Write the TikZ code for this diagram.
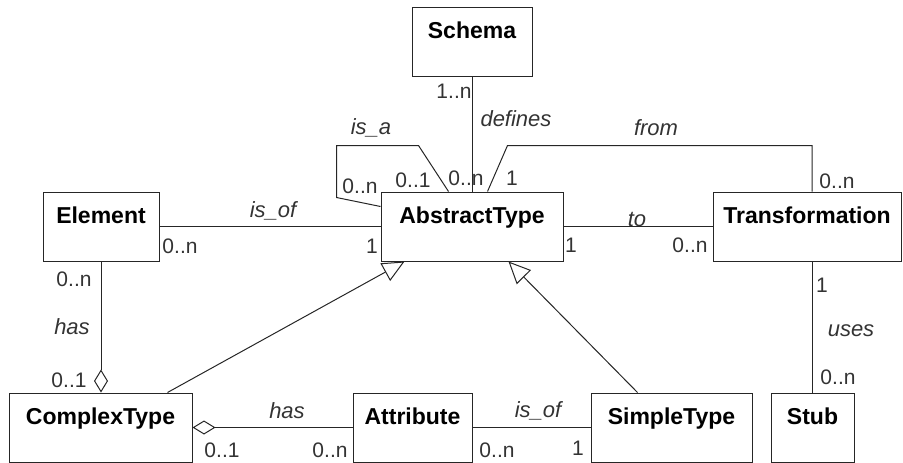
\documentclass[tikz,border=0pt]{standalone}
\usepackage{fontspec}
\setmainfont{Liberation Sans}
\usetikzlibrary{arrows.meta,calc}

\begin{document}
\begin{tikzpicture}[
  x=1pt,y=-1pt,line width=1pt,
  cls/.style={draw=black!85,rectangle,minimum height=69pt,inner xsep=0pt,inner ysep=15pt,
    text height=16pt,text depth=23pt,font=\fontsize{23}{27}\selectfont\bfseries},
  mult/.style={inner sep=0pt,font=\fontsize{21}{25}\selectfont,text=black!80},
  role/.style={inner sep=0pt,font=\fontsize{22}{26}\selectfont\itshape,text=black!80},
  assoc/.style={draw=black!85},
  agg/.style={assoc,-{Diamond[open,length=23pt,width=14pt]}},
  gen/.style={assoc,-{Triangle[open,length=22pt,width=20pt]}}
]
\useasboundingbox (0,0) rectangle (903,463);

% classes
\node[cls,minimum width=120pt] (schema) at (472,41.5) {Schema};
\node[cls,minimum width=182pt] (abstract) at (472,226.5) {AbstractType};
\node[cls,minimum width=116pt] (element) at (101,226.5) {Element};
\node[cls,minimum width=188pt] (trans) at (807,226.5) {Transformation};
\node[cls,minimum width=183pt] (complex) at (100.5,427.5) {ComplexType};
\node[cls,minimum width=119pt] (attribute) at (412.5,427.5) {Attribute};
\node[cls,minimum width=161pt] (simple) at (671.5,427.5) {SimpleType};
\node[cls,minimum width=83pt] (stub) at (812.5,427.5) {Stub};

% associations
\draw[assoc] (schema) -- (abstract);
\draw[assoc] (element) -- (abstract);
\draw[assoc] (abstract) -- (trans);
\draw[assoc] (stub.north) -- (stub.north |- trans.south);
\draw[assoc] (attribute) -- (simple);
\coordinate (isa) at ($(abstract.north west)+(68,0)$);
\draw[assoc] (isa) -- ++(-30,-46) -| ($(abstract.north west)+(-44,6)$) -- ($(abstract.north west)+(0,15)$);
\coordinate (from) at ($(abstract.north west)+(107,0)$);
\draw[assoc] (from) -- ++(20,-46) -| ($(trans.north)+(5,0)$);

% aggregations
\draw[agg] (element.south) -- (element.south |- complex.north);
\draw[agg] (attribute.west) -- (complex.east);

% generalizations
\draw[gen] ($(complex.north east)+(-25,0)$) -- ($(abstract.south west)+(24,0)$);
\draw[gen] ($(simple.north west)+(47,0)$) -- ($(abstract.south east)+(-55,0)$);

% labels
\node[mult] (m-sch) at (454,91) {1..n};
\node[role] (r-def) at (516,119) {defines};
\node[mult] (m-abs-sch) at (466,178) {0..n};
\node[role] (r-isa) at (371,128) {is\_a};
\node[mult] (m-isa-n) at (360,186) {0..n};
\node[mult] (m-isa-1) at (413,180) {0..1};
\node[mult] (m-abs-from) at (512,178) {1};
\node[role] (r-from) at (656,128) {from};
\node[mult] (m-trans-from) at (837,181) {0..n};
\node[role] (r-to) at (637,219) {to};
\node[mult] (m-abs-to) at (571,245) {1};
\node[mult] (m-trans-to) at (690,245) {0..n};
\node[role] (r-isof) at (273,211) {is\_of};
\node[mult] (m-elem) at (180,246) {0..n};
\node[mult] (m-abs-elem) at (372,246) {1};
\node[mult] (m-elem-has) at (74,279) {0..n};
\node[role] (r-has) at (72,327) {has};
\node[mult] (m-cplx-elem) at (69,380) {0..1};
\node[role] (r-has2) at (287,411) {has};
\node[mult] (m-cplx-attr) at (222,450) {0..1};
\node[mult] (m-attr-cplx) at (330,450) {0..n};
\node[role] (r-isof2) at (538,411) {is\_of};
\node[mult] (m-attr-simple) at (497,450) {0..n};
\node[mult] (m-simple) at (578,448) {1};
\node[mult] (m-trans-stub) at (822,285) {1};
\node[role] (r-uses) at (851,331) {uses};
\node[mult] (m-stub) at (838,377) {0..n};
\end{tikzpicture}
\end{document}
